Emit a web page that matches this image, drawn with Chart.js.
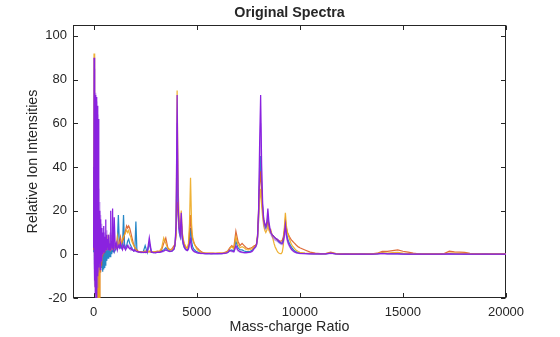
<!DOCTYPE html>
<html>
<head>
<meta charset="utf-8">
<script src="https://cdn.jsdelivr.net/npm/chart.js@4.4.1/dist/chart.umd.min.js"></script>
<style>
  html, body { margin: 0; padding: 0; background: #fff; }
</style>
</head>
<body>
<canvas id="chart" width="560" height="337"></canvas>
<script>
// mass-charge grid shared by all spectra (denser where the signal is busy)
const mz = [
  0, 20, 40, 60, 80, 100, 120, 140, 160, 180, 200, 220, 240, 260, 280, 300, 320, 340, 360, 380,
  400, 420, 440, 460, 480, 500, 520, 540, 560, 580, 600, 620, 640, 660, 680, 700, 720, 740, 760, 780,
  800, 820, 840, 860, 880, 900, 920, 940, 960, 980, 1000,
  1050, 1100, 1150, 1200, 1250, 1300, 1350, 1400, 1450, 1500, 1550, 1600, 1650, 1700, 1750, 1800,
  1850, 1900, 1950, 2000, 2050, 2100, 2150, 2200,
  2300, 2400, 2500, 2600, 2700, 2800, 2900, 3000, 3100, 3200, 3300, 3400, 3500, 3600, 3700, 3800, 3900,
  3950, 4000, 4050, 4100, 4150, 4200, 4250, 4300, 4350, 4400, 4450, 4500, 4550, 4600, 4650, 4700,
  4750, 4800, 4850, 4900, 4950, 5000, 5050, 5100, 5150, 5200, 5250, 5300,
  5400, 5500, 5600, 5700, 5800, 5900, 6000, 6100, 6200, 6300, 6400, 6500, 6600, 6700, 6800, 6900,
  7000, 7100, 7200, 7300, 7400, 7500, 7600, 7700, 7800,
  7850, 7900, 7950, 8000, 8050, 8100, 8150, 8200, 8250, 8300, 8350, 8400, 8450, 8500, 8550, 8600,
  8650, 8700, 8750, 8800, 8850, 8900, 8950, 9000, 9050, 9100, 9150, 9200, 9250, 9300, 9350, 9400,
  9450, 9500, 9550, 9600, 9650, 9700, 9750, 9800, 9850, 9900, 9950, 10000,
  10250, 10500, 10750, 11000, 11250, 11500, 11750, 12000, 12250, 12500, 12750, 13000, 13250, 13500,
  13750, 14000, 14250, 14500, 14750, 15000, 15250, 15500, 15750, 16000, 16250, 16500, 16750, 17000,
  17250, 17500, 17750, 18000, 18250, 18500, 18750, 19000, 19250, 19500, 19750, 20000
];

const blueSpec = [
  1, 30, -10, 25, -14, 20, -12, 18, -10, 15, -9, 12, -8, 10, -8, 8, -7, 7, -6, 6,
  -6, 5, -8, 4, -7, 5, -6, 4, -5, 4, -4, 4, -3, 3, -2, 4, -2, 3, -1, 3,
  -1, 3, 0, 3, 0, 3, 1, 3, 1, 2, 1,
  2, 3, 5, 18, 4, 3, 4, 3, 18, 4, 3, 4, 6, 7, 5, 4, 3, 2, 1.5, 2, 15, 1.5, 1.2, 1,
  0.8, 1, 4, 0.8, 5, 1, 0.8, 1, 0.9, 1, 1.5, 2, 3, 2, 1.5, 1.5, 2.5,
  4, 12, 45, 18, 10, 8, 14, 7, 4.5, 3, 2.5, 2, 2, 3, 7, 12, 6, 3.5, 2.5, 2, 1.5, 1.2, 1, 0.8, 0.6, 0.5, 0.4, 0.4,
  0.3, 0.3, 0.3, 0.3, 0.3, 0.3, 0.3, 0.3, 0.3, 0.4, 0.6, 0.9, 1.5, 2, 1.5, 6, 3, 2, 2, 1.5, 1.2, 1.2, 1.4, 2, 3,
  3.5, 4.5, 8, 18, 35, 45, 30, 20, 15, 13, 12, 13, 17, 13, 11, 10, 9, 8.5, 8, 7.5, 7, 6.5,
  6, 5.5, 5.2, 5, 5.5, 7, 10, 14, 10, 7.5, 6, 5, 4, 3.2, 2.6, 2, 1.6, 1.3, 1, 0.8, 0.7, 0.6,
  0.4, 0.3, 0.2, 0.2, 0.2, 0.5, 0.2, 0.1, 0.1, 0.1, 0.1, 0.1, 0.1, 0.1, 0.2, 0.5, 0.3, 0.3, 0.3, 0.2,
  0.1, 0.1, 0.1, 0.1, 0.1, 0.1, 0.1, 0.1, 0.3, 0.2, 0.2, 0.1, 0.1, 0.1, 0.1, 0.1, 0.1, 0.1, 0.1, 0.1
];

const orangeSpec = [
  2, 40, -5, 30, -12, 25, -8, 20, -22, 18, -25, 16, -22, 14, -21, 12, -8, 10, -5, 9,
  -3, 8, -1, 7, 0, 6, 1, 7, 2, 6, 3, 5, 2, 6, 3, 5, 2, 6, 3, 4,
  2, 5, 3, 4, 2, 5, 3, 4, 2, 5, 3,
  4, 3, 5, 4, 6, 8, 5, 6, 7, 9, 11, 13, 12, 13, 12, 10, 8, 6, 4, 3, 2.5, 2, 1.5, 1.2,
  1.2, 1, 1.5, 1, 1.2, 1, 1, 1.2, 1.5, 1.2, 2, 5, 7.5, 3, 2, 2.5, 4,
  4.5, 9, 24, 20, 12, 10, 15, 9, 6, 4.5, 3.5, 3, 3, 4, 10, 18, 10, 7, 5.5, 4.5, 3.8, 3.2, 2.7, 2.2, 1.8, 1.4, 1.1, 0.8,
  0.6, 0.5, 0.5, 0.5, 0.5, 0.4, 0.5, 0.5, 0.6, 0.7, 1, 1.5, 3, 4, 3, 10.5, 6, 4, 5, 4, 3, 2.5, 2.8, 3.2, 4,
  4, 5, 9, 20, 32, 38, 28, 20, 16, 14, 13, 13, 15, 13, 11, 10, 9, 8.5, 8, 7.5, 7, 6.8,
  6.5, 6.2, 6, 6, 6.5, 8, 11, 16, 12, 10, 9, 8, 7.2, 6.5, 6, 5.5, 5, 4.5, 4, 3.6, 3.3, 3,
  2, 1, 0.5, 0.3, 0.3, 1, 0.3, 0.2, 0.2, 0.2, 0.2, 0.2, 0.2, 0.2, 0.5, 1.3, 1.3, 1.7, 2, 1.4,
  1, 0.5, 0.2, 0.2, 0.2, 0.2, 0.2, 0.3, 1.4, 1.1, 1, 0.9, 0.4, 0.2, 0.2, 0.2, 0.2, 0.2, 0.2, 0.2
];

const yellowSpec = [
  5, 92, -8, 50, -15, 40, -18, 30, -25, 25, -22, 18, -24, 15, -20, 12, -6, 10, -3, 8,
  -1, 7, 0, 6, 1, 8, 2, 6, 2, 5, 3, 6, 2, 5, 3, 9, 2, 5, 3, 4,
  2, 5, 3, 4, 2, 6, 3, 4, 2, 4, 3,
  3, 4, 8, 4, 5, 6, 5, 7, 8, 9, 10, 11, 10, 11, 9, 8, 6, 5, 4, 3, 2, 1.5, 1.2, 1,
  1, 1.2, 0.8, 1, 1.5, 1, 1.2, 1, 1.3, 1.5, 3, 7.5, 5, 2.5, 2, 2, 3,
  4, 10, 75, 30, 16, 12, 20, 10, 7, 5, 4, 3, 3, 5, 14, 35, 14, 8, 6, 4.5, 3.5, 2.5, 2, 1.5, 1.2, 1, 0.8, 0.6,
  0.5, 0.4, 0.4, 0.4, 0.4, 0.4, 0.4, 0.5, 0.5, 0.6, 0.8, 1.2, 2.5, 3.5, 2.5, 8, 4.5, 3, 3.5, 3, 2.2, 2, 2.2, 2.6, 3.5,
  3.5, 4.5, 7, 15, 25, 30, 22, 17, 13, 11, 10, 11, 13, 11, 10, 11, 9, 7, 5, 3.5, 2.5, 1.5,
  0.8, 0.5, 0.3, 0.3, 1, 4, 12, 19, 13, 10, 8.5, 7, 5.5, 4.5, 3.8, 3.2, 2.6, 2.1, 1.7, 1.4, 1.1, 0.9,
  0.6, 0.4, 0.3, 0.3, 0.3, 0.7, 0.3, 0.2, 0.2, 0.2, 0.2, 0.2, 0.2, 0.2, 0.3, 0.8, 0.6, 0.8, 0.9, 0.6,
  0.4, 0.3, 0.2, 0.2, 0.2, 0.2, 0.2, 0.2, 0.6, 0.5, 0.4, 0.4, 0.3, 0.2, 0.2, 0.2, 0.2, 0.2, 0.2, 0.2
];

const lilacSpec = [
  40, -5, 85, -15, 74, -20, 70, -25, 66, -15, 64, -8, 30, -5, 24, -6, 18, -4, 14, -2,
  11, 0, 12, 1, 9, 2, 10, 2, 7, 3, 8, 2, 11, 3, 7, 2, 8, 3, 6, 2,
  10, 3, 6, 2, 9, 3, 6, 10, 3, 7, 3,
  5, 3, 6, 4, 3, 6, 4, 3, 5, 3, 4, 3, 3, 4, 3, 2, 3, 2, 2, 1.5, 1.5, 1.2, 1, 1,
  0.9, 1, 0.8, 1, 5, 1.2, 0.9, 0.8, 0.9, 1, 1, 1.3, 2.5, 1.8, 1.3, 1.4, 2.2,
  4.5, 12, 60, 20, 11, 8.5, 16, 7, 4.5, 3, 2.2, 1.8, 1.6, 2.2, 4.5, 6, 2.8, 1.8, 1.3, 1, 0.9, 0.7, 0.5, 0.4, 0.4, 0.3, 0.3, 0.3,
  0.3, 0.2, 0.3, 0.3, 0.2, 0.3, 0.2, 0.3, 0.3, 0.3, 0.4, 0.7, 1.5, 1.2, 1, 3, 1.5, 1, 0.8, 0.7, 0.7, 0.8, 0.9, 1.3, 2.6,
  3, 4, 7, 16, 40, 60, 35, 20, 14, 12, 11.5, 13, 18, 13, 11, 9, 8, 7.5, 7, 6.5, 6.3, 6,
  5.6, 5.2, 4.8, 4.5, 4.4, 5.5, 8, 11, 8, 5.8, 4.4, 3.5, 2.7, 2, 1.6, 1.2, 1, 0.8, 0.6, 0.5, 0.4, 0.3,
  0.3, 0.2, 0.2, 0.1, 0.2, 0.4, 0.2, 0.1, 0.2, 0.1, 0.1, 0.2, 0.1, 0.1, 0.2, 0.3, 0.2, 0.2, 0.3, 0.2,
  0.1, 0.1, 0.2, 0.1, 0.1, 0.1, 0.1, 0.2, 0.3, 0.2, 0.1, 0.2, 0.1, 0.1, 0.1, 0.2, 0.1, 0.1, 0.1, 0.1
];

const violetSpec = [
  3, 90, -12, 74, -18, 73, -25, 72, -20, 68, -10, 62, -6, 22, -4, 20, -7, 16, -3, 12,
  -1, 10, 0, 9, 1, 13, 1, 8, 2, 16, 2, 9, 2, 7, 3, 6, 2, 9, 2, 5,
  2, 8, 20, 4, 6, 3, 21, 3, 6, 2, 17,
  3, 5, 2, 4, 3, 5, 3, 2, 4, 3, 2, 3, 4, 3, 2.5, 3, 2, 2, 1.5, 2, 1.5, 1.2, 1.2, 1,
  1, 0.8, 1, 0.8, 7.6, 1, 0.8, 0.7, 1, 0.9, 1.2, 1.5, 2, 1.5, 1.2, 1.5, 2.5,
  5, 14, 73, 22, 12, 9, 19, 8, 5, 3.5, 2.5, 2, 1.8, 2.5, 5, 7, 3, 2, 1.5, 1.2, 1, 0.8, 0.6, 0.5, 0.5, 0.4, 0.4, 0.4,
  0.3, 0.3, 0.3, 0.2, 0.3, 0.3, 0.3, 0.3, 0.3, 0.4, 0.5, 0.8, 2, 1.5, 1.2, 4, 2, 1.2, 1, 0.8, 0.8, 0.9, 1, 1.5, 3,
  3.5, 4.5, 8, 20, 50, 73, 40, 23, 16, 14, 13, 15, 21, 15, 12, 10, 9, 8.5, 8, 7.5, 7.2, 7,
  6.5, 6, 5.5, 5.2, 5, 6, 9, 13.5, 9, 6.5, 5, 4, 3, 2.3, 1.8, 1.4, 1.1, 0.9, 0.7, 0.6, 0.5, 0.4,
  0.3, 0.2, 0.2, 0.2, 0.2, 0.5, 0.2, 0.1, 0.1, 0.1, 0.1, 0.1, 0.1, 0.1, 0.2, 0.4, 0.2, 0.2, 0.2, 0.1,
  0.1, 0.1, 0.1, 0.1, 0.1, 0.1, 0.1, 0.1, 0.2, 0.1, 0.1, 0.1, 0.1, 0.1, 0.1, 0.1, 0.1, 0.1, 0.1, 0.1
];

const xTicks = [0, 5000, 10000, 15000, 20000];
const yTicks = [-20, 0, 20, 40, 60, 80, 100];

const FONT = "'Liberation Sans', Arial, Helvetica, sans-serif";
const INK = "#262626";

const toPoints = (vals) => mz.map((x, i) => ({ x, y: vals[i] }));

// MATLAB style box with inward ticks on all four sides
const boxPlugin = {
  id: "matlabBox",
  beforeDatasetsDraw(chart) {
    const { ctx, chartArea: a, scales } = chart;
    const len = 4.5;
    ctx.save();
    ctx.strokeStyle = INK;
    ctx.lineWidth = 1;
    const L = Math.round(a.left) + 0.5, R = Math.round(a.right) - 0.5;
    const T = Math.round(a.top) + 0.5, B = Math.round(a.bottom) - 0.5;
    ctx.strokeRect(L, T, R - L, B - T);
    ctx.beginPath();
    xTicks.forEach((v) => {
      const px = Math.round(scales.x.getPixelForValue(v)) + 0.5;
      ctx.moveTo(px, B); ctx.lineTo(px, B - len);
      ctx.moveTo(px, T); ctx.lineTo(px, T + len);
    });
    yTicks.forEach((v) => {
      const py = Math.round(scales.y.getPixelForValue(v)) + 0.5;
      ctx.moveTo(L, py); ctx.lineTo(L + len, py);
      ctx.moveTo(R, py); ctx.lineTo(R - len, py);
    });
    ctx.stroke();
    ctx.restore();
  }
};

const line = (label, vals, color, order) => ({
  label,
  data: toPoints(vals),
  borderColor: color,
  borderWidth: 1.25,
  pointRadius: 0,
  tension: 0,
  fill: false,
  clip: 0,
  order
});

new Chart(document.getElementById("chart"), {
  type: "line",
  data: {
    datasets: [
      line("Spectrum 1", blueSpec, "rgba(0,114,189,0.85)", 4),
      line("Spectrum 2", orangeSpec, "rgba(217,83,25,0.85)", 3),
      line("Spectrum 3", yellowSpec, "rgba(237,170,32,0.9)", 2),
      line("Spectrum 4", lilacSpec, "rgba(150,70,225,0.55)", 1),
      line("Spectrum 5", violetSpec, "#8a22df", 0)
    ]
  },
  options: {
    responsive: false,
    animation: false,
    devicePixelRatio: 1,
    layout: { padding: { left: 0, right: 54, top: 0, bottom: 0 } },
    plugins: {
      legend: { display: false },
      tooltip: { enabled: false },
      title: {
        display: true,
        text: "Original Spectra",
        fullSize: false,
        color: INK,
        font: { family: FONT, size: 14.3, weight: "bold", lineHeight: 1.2 },
        padding: { top: 4.4, bottom: 3.44 }
      }
    },
    scales: {
      x: {
        type: "linear",
        min: -1000,
        max: 20000,
        grid: { display: false, drawTicks: false },
        border: { display: false },
        afterBuildTicks: (s) => { s.ticks = xTicks.map((v) => ({ value: v })); },
        afterFit: (s) => { s.height = 39; },
        ticks: {
          color: INK,
          padding: 7,
          maxRotation: 0,
          font: { family: FONT, size: 13 },
          callback: (v) => String(v)
        },
        title: {
          display: true,
          text: "Mass-charge Ratio",
          color: INK,
          font: { family: FONT, size: 14.3, lineHeight: 1.2 },
          padding: { top: 0, bottom: 1.5 }
        }
      },
      y: {
        type: "linear",
        min: -20,
        max: 105,
        grid: { display: false, drawTicks: false },
        border: { display: false },
        afterBuildTicks: (s) => { s.ticks = yTicks.map((v) => ({ value: v })); },
        afterFit: (s) => { s.width = 73; },
        ticks: {
          color: INK,
          padding: 6,
          font: { family: FONT, size: 13 },
          callback: (v) => String(v)
        },
        title: {
          display: true,
          text: "Relative Ion Intensities",
          color: INK,
          font: { family: FONT, size: 14.3, lineHeight: 1.2 },
          padding: { top: 24.4, bottom: 0 }
        }
      }
    }
  },
  plugins: [boxPlugin]
});
</script>
</body>
</html>
